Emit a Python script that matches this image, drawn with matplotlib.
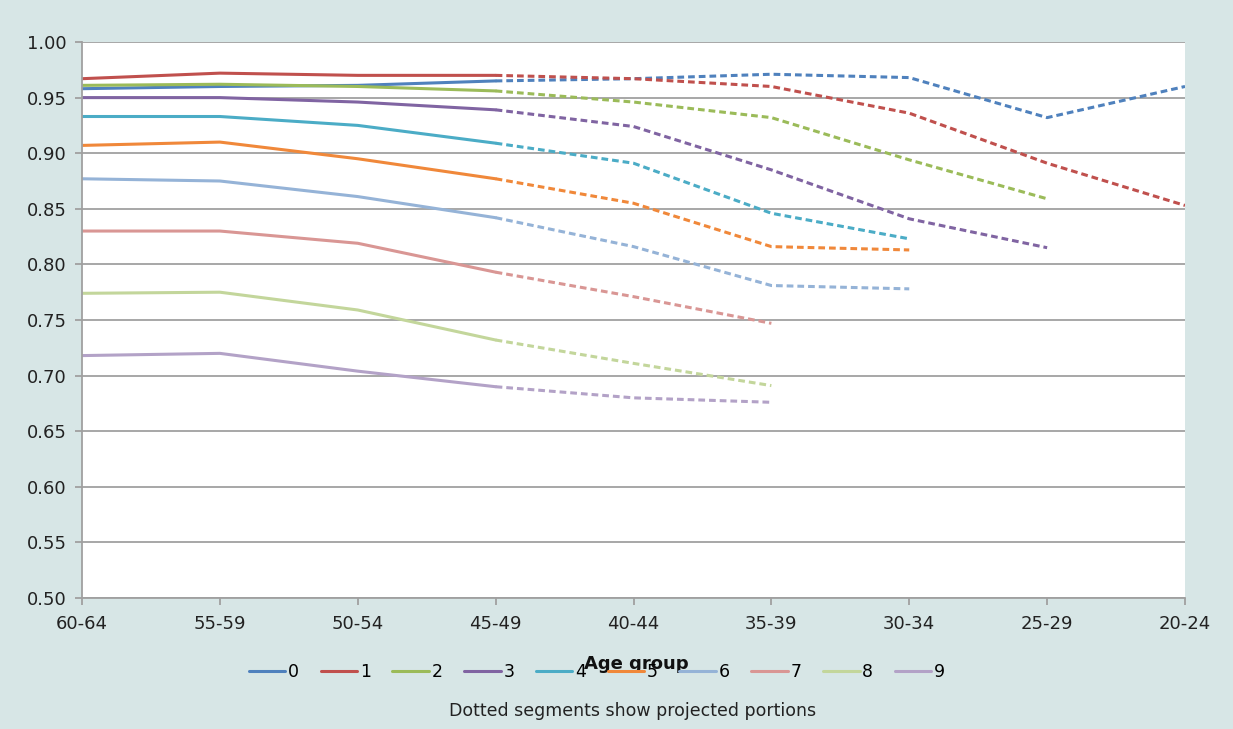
import numpy as np
import matplotlib.pyplot as plt

# age groups, oldest first
age_groups = ["60-64", "55-59", "50-54", "45-49", "40-44", "35-39", "30-34", "25-29", "20-24"]
series_names = ["0", "1", "2", "3", "4", "5", "6", "7", "8", "9"]

s0 = [0.958, 0.960, 0.961, 0.965, 0.967, 0.971, 0.968, 0.932, 0.960]
s1 = [0.967, 0.972, 0.970, 0.970, 0.967, 0.960, 0.936, 0.891, 0.853]
s2 = [0.961, 0.962, 0.960, 0.956, 0.946, 0.932, 0.894, 0.859]
s3 = [0.950, 0.950, 0.946, 0.939, 0.924, 0.885, 0.841, 0.815]
s4 = [0.933, 0.933, 0.925, 0.909, 0.891, 0.846, 0.823]
s5 = [0.907, 0.910, 0.895, 0.877, 0.855, 0.816, 0.813]
s6 = [0.877, 0.875, 0.861, 0.842, 0.816, 0.781, 0.778]
s7 = [0.830, 0.830, 0.819, 0.793, 0.771, 0.747]
s8 = [0.774, 0.775, 0.759, 0.732, 0.711, 0.691]
s9 = [0.718, 0.720, 0.704, 0.690, 0.680, 0.676]
all_series = [s0, s1, s2, s3, s4, s5, s6, s7, s8, s9]

# last observed point (45-49), projected afterwards
n_solid = 4

colors = ["#4F81BD", "#C0504D", "#9BBB59", "#8064A2", "#4BACC6",
          "#F0883A", "#95B3D7", "#D99694", "#C3D69B", "#B3A2C7"]

bg = "#D7E6E6"
fig = plt.figure(figsize=(12.33, 7.29), dpi=100, facecolor=bg)
ax = fig.add_axes([82/1233, 1 - 598/729, (1185-82)/1233, (598-42)/729])
ax.set_facecolor("white")

x = np.arange(len(age_groups))
for name, vals, c in zip(series_names, all_series, colors):
    vals = np.array(vals)
    ax.plot(x[:n_solid], vals[:n_solid], color=c, lw=2.2, label=name,
            solid_capstyle="round")
    ax.plot(x[n_solid-1:len(vals)], vals[n_solid-1:], color=c, lw=2.2,
            dashes=(2.2, 1.3))

ax.set_xlim(0, len(age_groups) - 1)
ax.set_ylim(0.5, 1.0)
ax.set_yticks(np.arange(0.5, 1.001, 0.05))
ax.set_yticklabels(["%.2f" % v for v in np.arange(0.5, 1.001, 0.05)])
ax.set_xticks(x)
ax.set_xticklabels(age_groups)
ax.yaxis.grid(True, color="#A0A0A0", lw=1.3)
ax.set_axisbelow(True)
for side in ["top", "right"]:
    ax.spines[side].set_visible(False)
for side in ["left", "bottom"]:
    ax.spines[side].set_color("#A0A0A0")
    ax.spines[side].set_linewidth(1.3)
ax.tick_params(axis="both", colors="#A0A0A0", labelcolor="#222222",
               labelsize=13, length=5, width=1.3)
ax.tick_params(axis="x", pad=7)
ax.tick_params(axis="y", pad=6)

fig.text(636/1233, 1 - 664/729, "Age group", ha="center", va="center",
         fontsize=13, fontweight="bold", color="#111111")
leg = fig.legend(loc="center", bbox_to_anchor=(597/1233, 1 - 672/729), ncol=10,
                 frameon=False, fontsize=12.5, handlelength=2.1, handletextpad=0.15,
                 columnspacing=1.25)
fig.text(633/1233, 1 - 711/729, "Dotted segments show projected portions",
         ha="center", va="center", fontsize=12.5, color="#222222")

fig.savefig("out.png", dpi=100, facecolor=bg)
